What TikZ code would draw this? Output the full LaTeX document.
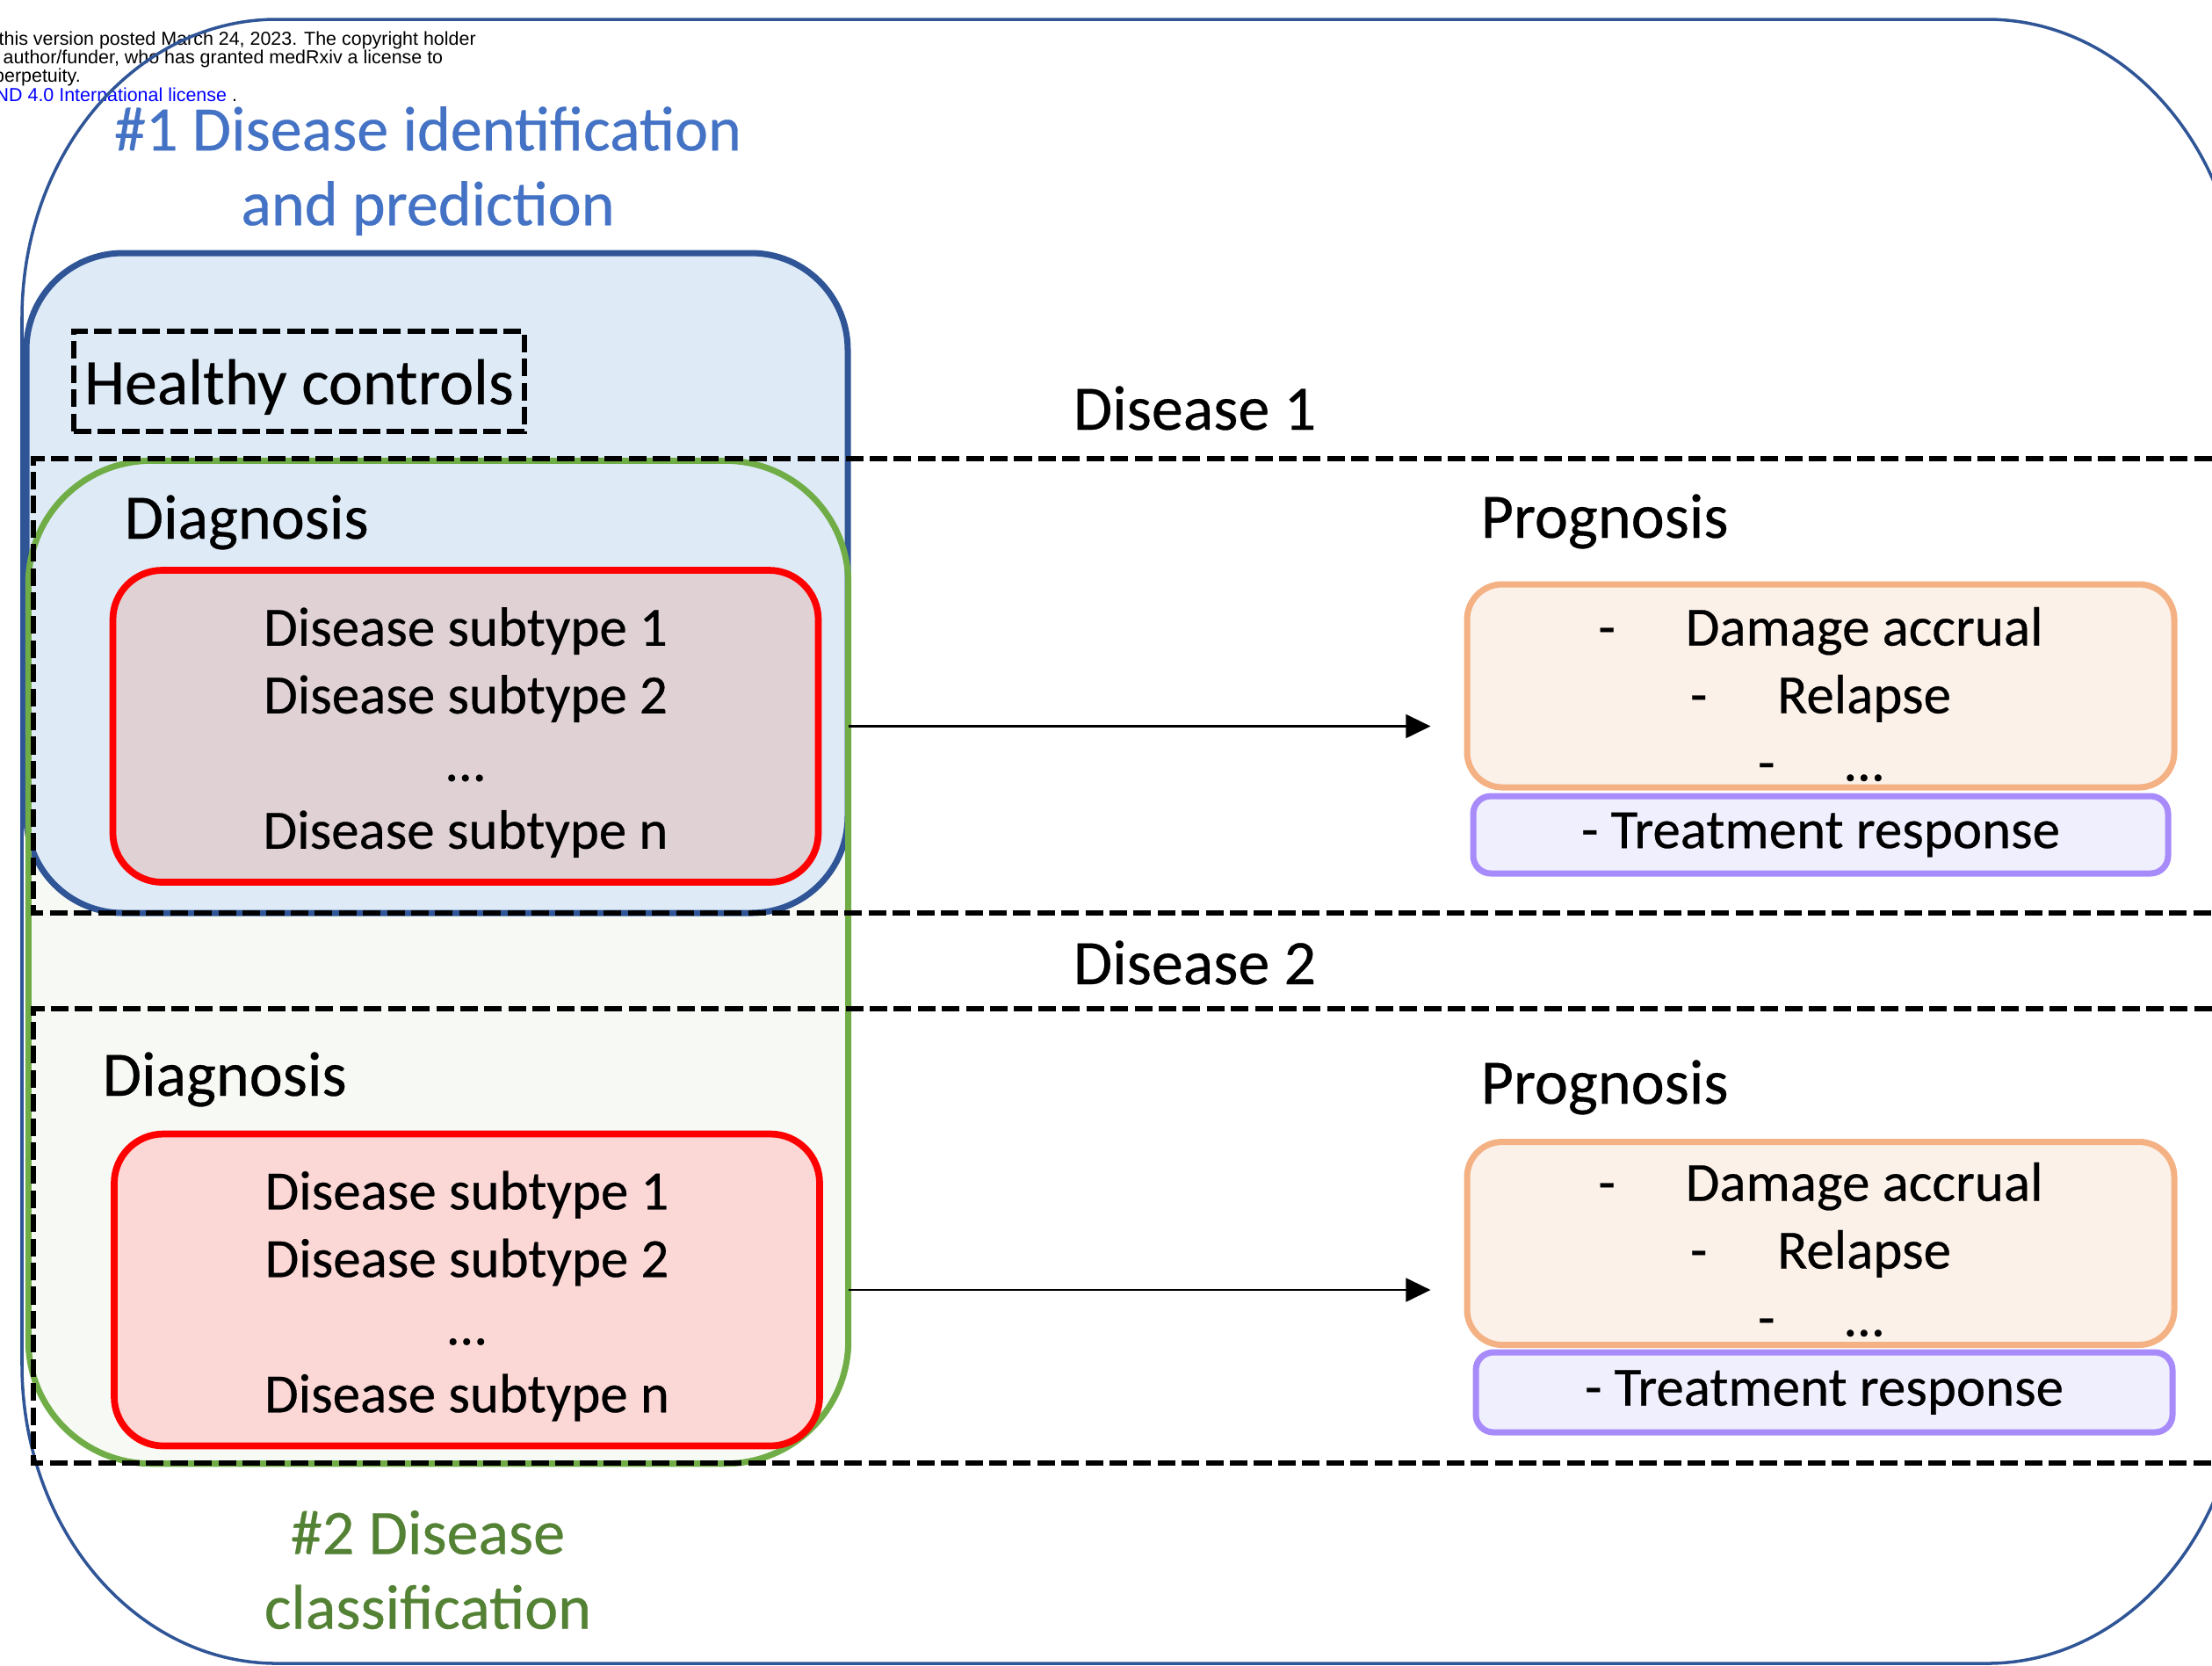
\documentclass[tikz,border=0pt]{standalone}
\usepackage{fontspec}
\setmainfont{Carlito}[FakeBold=0.4]
\newfontfamily\notefont{Liberation Sans}
\usepackage{tikz}
\usetikzlibrary{arrows.meta}

\definecolor{frameblue}{HTML}{2F5597}
\definecolor{titleblue}{HTML}{4472C4}
\definecolor{titlegreen}{HTML}{548235}
\definecolor{boxblue}{HTML}{DEEBF7}
\definecolor{grpgreen}{HTML}{70AD47}
\definecolor{grpfill}{HTML}{F7FAF4}
\definecolor{subred}{HTML}{FF0000}
\definecolor{subfillA}{HTML}{E0D1D5}
\definecolor{subfillB}{HTML}{FBD7D6}
\definecolor{progorange}{HTML}{F4B183}
\definecolor{progfill}{HTML}{FBF1E9}
\definecolor{resppurple}{HTML}{A78BFA}
\definecolor{respfill}{HTML}{F0EFFD}
\definecolor{linkblue}{HTML}{0000FF}

\begin{document}
\begin{tikzpicture}[%
		big/.style={font=\fontsize{20.5}{24.2}\selectfont, inner sep=0pt},%
		small/.style={font=\fontsize{17.9}{21.9}\selectfont, inner sep=0pt},%
		note/.style={font=\notefont\fontsize{6.1}{7}\selectfont, inner sep=0pt, anchor=base west},%
		band/.style={line width=1.8pt, dash pattern=on 5.7pt off 2.1pt},%
		subbox/.style={%
			draw=subred,%
			line width=2.2pt,%
			rounded corners=0.56cm,%
			minimum width=8.03cm,%
			minimum height=3.55cm},
		progbox/.style={%
			draw=progorange,%
			fill=progfill,%
			line width=2pt,%
			rounded corners=0.4cm,%
			minimum width=8.05cm,%
			minimum height=2.31cm},
		resptxt/.style={%
			small,
			draw=resppurple,%
			fill=respfill,%
			line width=2pt,%
			rounded corners=0.2cm},
		flow/.style={-{Triangle[length=8pt,width=7.6pt]}, line width=0.8pt, shorten >=0.38cm}
		]

		\useasboundingbox (0,0) rectangle (25.18,-18.95);
		\clip (0,0) rectangle (25.18,-18.95);

		% preprint header, cut at the left
		\node[note] (wm1) at (-0.02,-0.51) {this version posted March 24, 2023. The copyright holder};
		\node[note] (wm2) at (0.03,-0.72) {author/funder, who has granted medRxiv a license to};
		\node[note] (wm3) at (-0.075,-0.93) {perpetuity.};
		\node[note, text=linkblue] (wm4) at (-0.06,-1.15) {ND 4.0 International license \textcolor{black}{.}};

		% outer frame
		\draw[frameblue, line width=1pt] (0.25,-3.62) -- (0.25,-15.53)
			arc[start angle=180, end angle=270, x radius=2.9, y radius=3.4] -- (22.62,-18.93)
			arc[start angle=270, end angle=360, x radius=2.9, y radius=3.4] -- (25.52,-3.62)
			arc[start angle=0, end angle=90, x radius=2.9, y radius=3.4] -- (3.15,-0.22)
			arc[start angle=90, end angle=180, x radius=2.9, y radius=3.4] -- cycle;

		% titles
		\node[big, text=titleblue, align=center] (title1) at (4.87,-1.945) {\#1 Disease identification\\and prediction};
		\node[big, text=titlegreen, align=center] (title2) at (4.87,-17.865) {\#2 Disease\\classification};

		% group boxes
		\node[fill=grpfill, rounded corners=1.4cm, minimum width=9.32cm, minimum height=11.4cm] (grp2) at (4.99,-10.95) {};
		\node[draw=frameblue, fill=boxblue, line width=2pt, rounded corners=1.1cm, minimum width=9.35cm, minimum height=7.51cm] (grp1) at (4.975,-6.635) {};
		\draw[grpgreen, line width=2pt, rounded corners=1.4cm] (grp2.north west) rectangle (grp2.south east);

		% healthy controls
		\node[big, font=\fontsize{21}{24.2}\selectfont, draw, band, text height=0.66cm, text depth=0.14cm, minimum width=5.13cm, minimum height=1.14cm] (healthy) at (3.405,-4.34) {Healthy controls};

		% disease 1
		\node[big, anchor=base] (dis1) at (13.60,-4.89) {Disease 1};
		\node[big, anchor=base west] (diagA) at (1.41,-6.13) {Diagnosis};
		\node[subbox, fill=subfillA] (subA) at (5.30,-8.265) {};
		\node[small, align=center] (subAtxt) at ([yshift=-0.07cm]subA.center) {Disease subtype 1\\Disease subtype 2\\…\\Disease subtype n};
		\node[big, anchor=base west] (progAlbl) at (16.85,-6.12) {Prognosis};
		\node[progbox] (progA) at (20.725,-7.805) {};
		\node[small, align=center] (progAtxt) at (20.725,-7.90) {-\hspace{0.8cm}Damage accrual\\-\hspace{0.8cm}Relapse\\-\hspace{0.8cm}…};
		\node[resptxt, minimum width=7.91cm, minimum height=0.88cm] (respA) at (20.725,-9.50) {- Treatment response};
		\draw[flow] (subA -| grp2.east) -- (subA -| progA.west);

		% disease 2
		\node[big, anchor=base] (dis2) at (13.60,-11.20) {Disease 2};
		\node[big, anchor=base west] (diagB) at (1.16,-12.47) {Diagnosis};
		\node[subbox, fill=subfillB] (subB) at (5.315,-14.68) {};
		\node[small, align=center] (subBtxt) at ([yshift=-0.07cm]subB.center) {Disease subtype 1\\Disease subtype 2\\…\\Disease subtype n};
		\node[big, anchor=base west] (progBlbl) at (16.85,-12.56) {Prognosis};
		\node[progbox] (progB) at (20.725,-14.15) {};
		\node[small, align=center] (progBtxt) at (20.725,-14.22) {-\hspace{0.8cm}Damage accrual\\-\hspace{0.8cm}Relapse\\-\hspace{0.8cm}…};
		\node[resptxt, minimum width=7.93cm, minimum height=0.91cm] (respB) at (20.765,-15.845) {- Treatment response};
		\draw[flow] (subB -| grp2.east) -- (subB -| progB.west);

		% disease bands
		\draw[band] (26,-5.22) -- (0.38,-5.22) -- (0.38,-10.39) -- (26,-10.39);
		\draw[band] (26,-11.48) -- (0.38,-11.48) -- (0.38,-16.65) -- (26,-16.65);
	\end{tikzpicture}
\end{document}
